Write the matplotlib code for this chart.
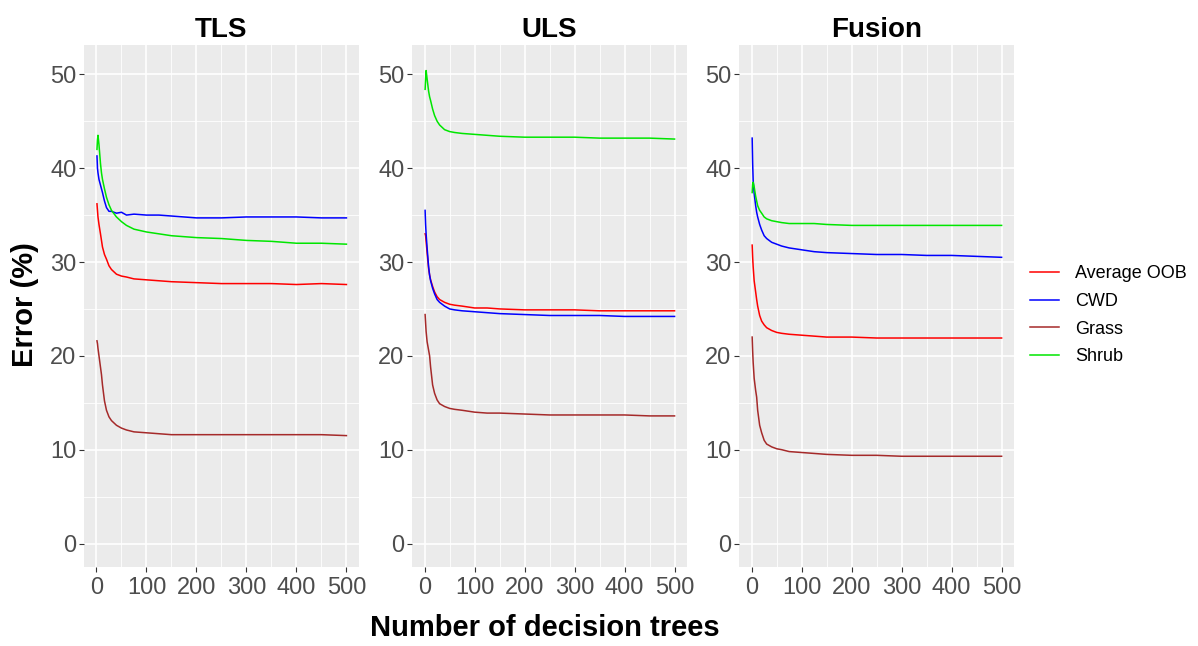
import matplotlib
matplotlib.use("Agg")
import matplotlib.pyplot as plt
from matplotlib.lines import Line2D

plt.rcParams['font.family'] = ['Liberation Sans', 'DejaVu Sans']

# number of trees at which the OOB error was read
trees = [1, 2, 3, 5, 8, 10, 12, 16, 20, 25, 30, 40, 50, 60, 75, 100,
         125, 150, 200, 250, 300, 350, 400, 450, 500]

panels = ["TLS", "ULS", "Fusion"]
classes = ["Average OOB", "CWD", "Grass", "Shrub"]
colors = ["#FF0000", "#0000FF", "#A52A2A", "#00E600"]

# TLS
tls_oob = [36.2, 35.5, 34.8, 34.0, 33.0, 32.3, 31.6, 30.8, 30.3, 29.6, 29.2, 28.7, 28.5,
           28.4, 28.2, 28.1, 28.0, 27.9, 27.8, 27.7, 27.7, 27.7, 27.6, 27.7, 27.6]
tls_cwd = [41.3, 40.0, 39.5, 38.8, 38.2, 37.8, 37.4, 36.5, 35.8, 35.4, 35.4, 35.2, 35.3,
           35.0, 35.1, 35.0, 35.0, 34.9, 34.7, 34.7, 34.8, 34.8, 34.8, 34.7, 34.7]
tls_grass = [21.6, 21.3, 20.8, 20.0, 18.8, 18.0, 16.9, 15.2, 14.2, 13.5, 13.1, 12.6, 12.3,
             12.1, 11.9, 11.8, 11.7, 11.6, 11.6, 11.6, 11.6, 11.6, 11.6, 11.6, 11.5]
tls_shrub = [42.0, 43.0, 43.5, 42.5, 40.5, 39.5, 38.8, 37.8, 36.9, 36.1, 35.5, 34.8, 34.3,
             33.9, 33.5, 33.2, 33.0, 32.8, 32.6, 32.5, 32.3, 32.2, 32.0, 32.0, 31.9]

# ULS
uls_oob = [33.0, 32.8, 32.2, 31.0, 29.3, 28.6, 28.1, 27.4, 26.8, 26.3, 26.0, 25.7, 25.5,
           25.4, 25.3, 25.1, 25.1, 25.0, 24.9, 24.9, 24.9, 24.8, 24.8, 24.8, 24.8]
uls_cwd = [35.5, 34.0, 33.0, 31.5, 29.5, 28.6, 28.0, 27.2, 26.6, 26.0, 25.7, 25.3, 25.0,
           24.9, 24.8, 24.7, 24.6, 24.5, 24.4, 24.3, 24.3, 24.3, 24.2, 24.2, 24.2]
uls_grass = [24.4, 23.5, 22.6, 21.5, 20.6, 20.0, 18.8, 16.9, 16.0, 15.3, 14.9, 14.6, 14.4,
             14.3, 14.2, 14.0, 13.9, 13.9, 13.8, 13.7, 13.7, 13.7, 13.7, 13.6, 13.6]
uls_shrub = [48.4, 49.5, 50.4, 49.5, 48.2, 47.6, 47.2, 46.3, 45.6, 45.0, 44.6, 44.1, 43.9,
             43.8, 43.7, 43.6, 43.5, 43.4, 43.3, 43.3, 43.3, 43.2, 43.2, 43.2, 43.1]

# Fusion
fus_oob = [31.8, 30.5, 29.5, 28.0, 26.8, 26.0, 25.3, 24.3, 23.7, 23.3, 23.0, 22.7, 22.5,
           22.4, 22.3, 22.2, 22.1, 22.0, 22.0, 21.9, 21.9, 21.9, 21.9, 21.9, 21.9]
fus_cwd = [43.2, 40.5, 38.7, 37.3, 36.0, 35.3, 34.8, 34.0, 33.4, 32.8, 32.5, 32.1, 31.9,
           31.7, 31.5, 31.3, 31.1, 31.0, 30.9, 30.8, 30.8, 30.7, 30.7, 30.6, 30.5]
fus_grass = [22.0, 20.5, 19.3, 17.6, 16.3, 15.6, 14.2, 12.6, 11.8, 11.0, 10.6, 10.3, 10.1,
             10.0, 9.8, 9.7, 9.6, 9.5, 9.4, 9.4, 9.3, 9.3, 9.3, 9.3, 9.3]
fus_shrub = [37.4, 38.3, 38.5, 38.0, 37.0, 36.5, 36.0, 35.5, 35.2, 34.8, 34.6, 34.4, 34.3,
             34.2, 34.1, 34.1, 34.1, 34.0, 33.9, 33.9, 33.9, 33.9, 33.9, 33.9, 33.9]

series = [
    [tls_oob, tls_cwd, tls_grass, tls_shrub],
    [uls_oob, uls_cwd, uls_grass, uls_shrub],
    [fus_oob, fus_cwd, fus_grass, fus_shrub],
]

fig = plt.figure(figsize=(11.98, 6.46), dpi=100)
lefts = [0.0701, 0.3440, 0.6170]

for i, name in enumerate(panels):
    ax = fig.add_axes([lefts[i], 0.1223, 0.2295, 0.8077])
    ax.set_facecolor("#EBEBEB")
    for vals, c in zip(series[i], colors):
        ax.plot(trees, vals, color=c, lw=1.1)
    ax.set_xlim(-25, 525)
    ax.set_ylim(-2.5, 53.1)
    ax.set_xticks([0, 100, 200, 300, 400, 500])
    ax.set_yticks([0, 10, 20, 30, 40, 50])
    ax.set_xticks([50, 150, 250, 350, 450], minor=True)
    ax.set_yticks([5, 15, 25, 35, 45], minor=True)
    ax.grid(which="major", color="white", lw=1.2)
    ax.grid(which="minor", color="white", lw=0.6)
    ax.set_axisbelow(True)
    for s in ax.spines.values():
        s.set_visible(False)
    ax.tick_params(which="major", length=3.5, width=0.8, color="#333333",
                   labelsize=17, labelcolor="#4D4D4D")
    ax.tick_params(axis="x", pad=4)
    ax.tick_params(axis="y", pad=2)
    ax.tick_params(which="minor", length=0)
    ax.set_title(name, fontsize=20, fontweight="bold", pad=6)

fig.text(0.021, 0.528, "Error (%)", rotation=90, fontsize=21, fontweight="bold",
         ha="center", va="center")
fig.text(0.455, 0.028, "Number of decision trees", fontsize=21, fontweight="bold",
         ha="center", va="center")

handles = [Line2D([], [], color=c, lw=1.1) for c in colors]
fig.legend(handles, classes, loc="center left", bbox_to_anchor=(0.852, 0.512),
           frameon=False, fontsize=13, borderpad=0, handlelength=1.6,
           handletextpad=0.9, labelspacing=0.6)

fig.savefig("out.png", dpi=100)
